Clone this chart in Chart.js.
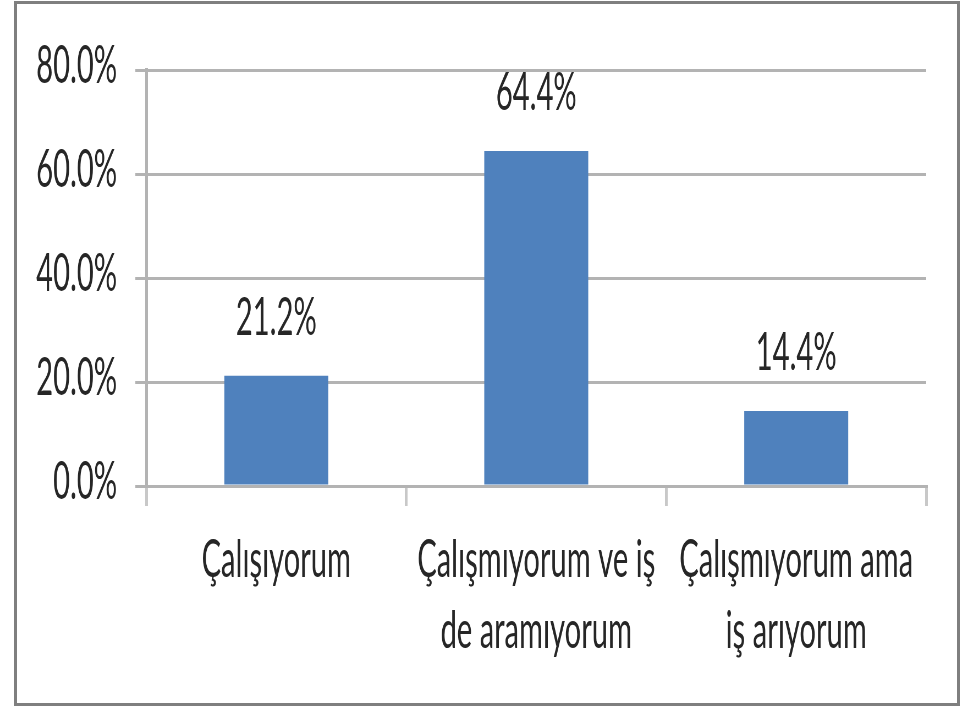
<!DOCTYPE html>
<html><head><meta charset="utf-8">
<script src="https://cdn.jsdelivr.net/npm/chart.js@4/dist/chart.umd.min.js"></script>
<style>
html,body{margin:0;padding:0;background:#fff;overflow:hidden;width:965px;height:707px;}
#frame{position:absolute;left:14px;top:1px;width:940px;height:699px;border:3px solid #7f7f7f;}
#wrap{position:absolute;left:0;top:0;width:1755px;height:707px;transform:scaleX(0.55);transform-origin:0 0;}
</style></head>
<body>
<div id="wrap"><canvas id="c" width="1755" height="707" style="width:1755px;height:707px"></canvas></div>
<div id="frame"></div>
<script>
const categories = [['Çalışıyorum'], ['Çalışmıyorum ve iş', 'de aramıyorum'], ['Çalışmıyorum ama', 'iş arıyorum']];
const values = [21.2, 64.4, 14.4];
const yTicks = [0, 20, 40, 60, 80];

const FONT = 'Lato';
const TXT = '#262626';

const valueLabels = {
  id: 'valueLabels',
  afterDatasetsDraw(chart) {
    const ctx = chart.ctx;
    const meta = chart.getDatasetMeta(0);
    ctx.save();
    ctx.font = '53px ' + FONT;
    ctx.fillStyle = TXT;
    ctx.textAlign = 'center';
    ctx.textBaseline = 'alphabetic';
    meta.data.forEach((bar, i) => {
      ctx.fillText(values[i].toFixed(1) + '%', bar.x, bar.y - 41);
    });
    ctx.restore();
  }
};

function draw() {
  new Chart(document.getElementById('c'), {
    type: 'bar',
    data: {
      labels: categories,
      datasets: [{
        data: values,
        backgroundColor: '#4F81BD',
        borderWidth: 0,
        barPercentage: 0.4,
        categoryPercentage: 1.0
      }]
    },
    options: {
      responsive: false,
      animation: false,
      devicePixelRatio: 1,
      layout: { padding: { left: 0, right: 71, top: 70, bottom: 0 } },
      plugins: { legend: { display: false }, tooltip: { enabled: false } },
      scales: {
        y: {
          min: 0, max: 80,
          afterBuildTicks(scale) { scale.ticks = yTicks.map(v => ({ value: v })); },
          afterFit(scale) { scale.width = 266; },
          grid: { color: '#b3b3b3', lineWidth: 3, drawTicks: true, tickLength: 20 },
          border: { display: true, color: '#b3b3b3', width: 5 },
          ticks: {
            color: TXT, padding: 33, labelOffset: -4,
            font: { family: FONT, size: 53 },
            callback: v => Number(v).toFixed(1) + '%'
          }
        },
        x: {
          afterFit(scale) { scale.height = 221; },
          grid: { display: true, drawOnChartArea: false, drawTicks: true, tickLength: 20, color: '#c8c8c8', lineWidth: 5, offset: true },
          border: { display: true, color: '#b3b3b3', width: 3 },
          ticks: {
            color: TXT, padding: 18, maxRotation: 0, autoSkip: false,
            font: { family: FONT, size: 53, lineHeight: 1.34 }
          }
        }
      }
    },
    plugins: [valueLabels]
  });
}
if (document.fonts && document.fonts.load) {
  document.fonts.load('53px ' + FONT).then(draw, draw);
} else { draw(); }
</script>
</body></html>
